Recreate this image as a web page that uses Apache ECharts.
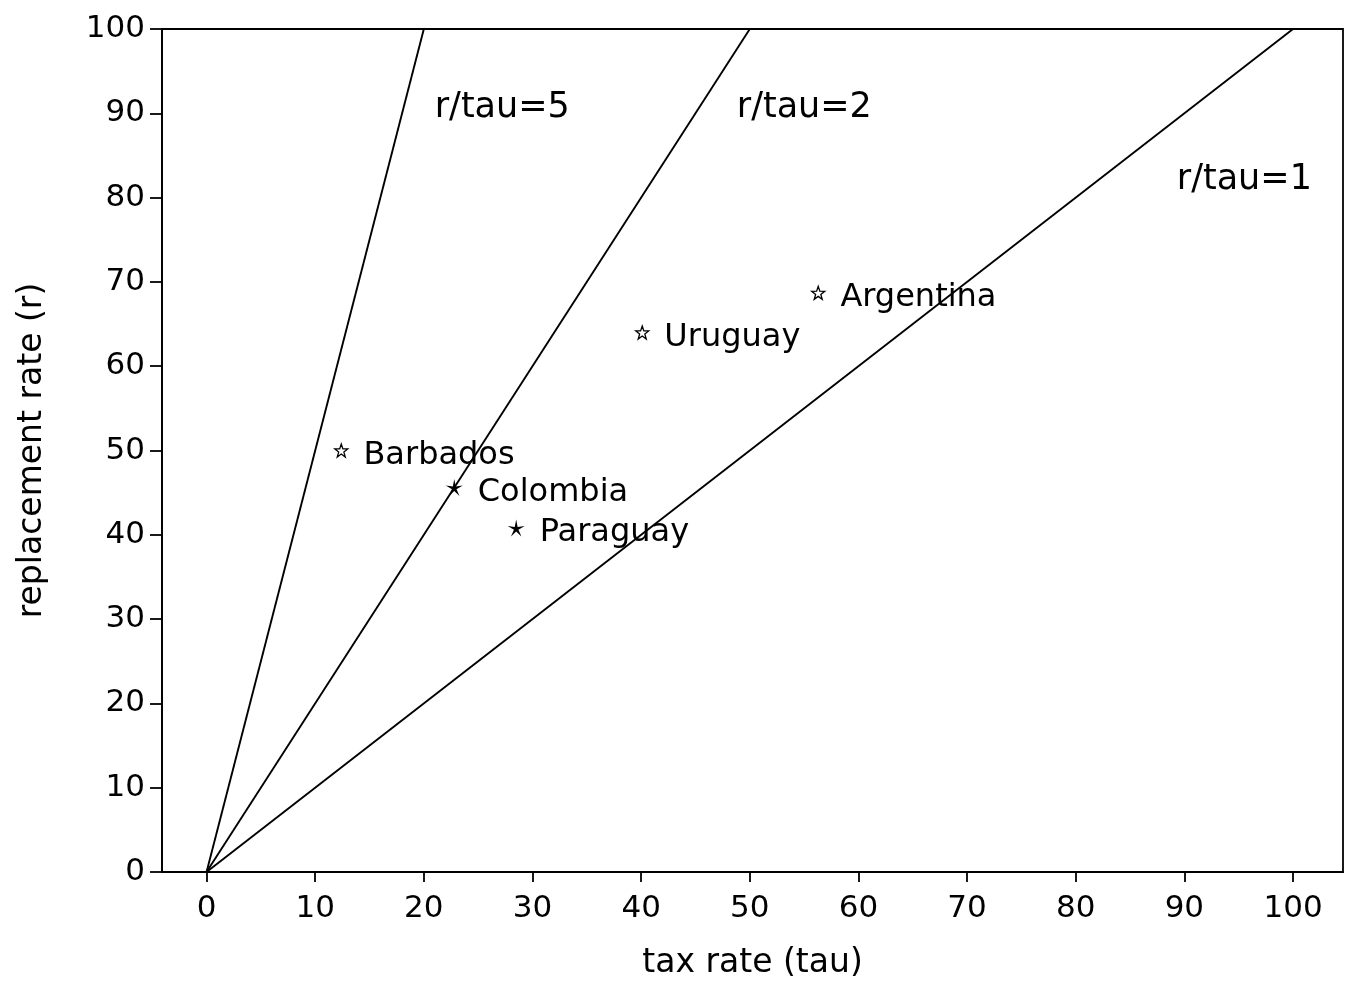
<!DOCTYPE html>
<html>
<head>
<meta charset="utf-8">
<script src="https://cdn.jsdelivr.net/npm/echarts@6/dist/echarts.min.js"></script>
<style>
html,body{margin:0;padding:0;background:#fff;}
#main{width:1349px;height:987px;}
</style>
</head>
<body>
<div id="main"></div>
<script>
// ---- data ----
var countries = ['Barbados', 'Colombia', 'Paraguay', 'Uruguay', 'Argentina'];
var taxRate = [12.4, 22.8, 28.5, 40.1, 56.3];
var replacementRate = [50.0, 45.6, 40.8, 64.0, 68.7];
var markerFilled = [false, true, true, false, false];

var ratioNames = ['r/tau=5', 'r/tau=2', 'r/tau=1'];
var ratioValues = [5, 2, 1];
var ratioLabelX = [21.0, 48.8, 89.3];
var ratioLabelY = [90.6, 90.6, 82.1];

var xTicks = [0, 10, 20, 30, 40, 50, 60, 70, 80, 90, 100];
var yTicks = [0, 10, 20, 30, 40, 50, 60, 70, 80, 90, 100];

// ---- chart ----
var FONT = 'DejaVu Sans';
var hollowStar = 'path://M0,-10 L2.35,-3.24 L9.511,-3.09 L3.804,1.236 L5.878,8.09 L0,4 L-5.878,8.09 L-3.804,1.236 L-9.511,-3.09 L-2.35,-3.24 Z';
var asterisk = 'path://M0,-10 L1.6,-2.2 L9.511,-3.09 L2.5,0.8 L5.878,8.09 L0,2.7 L-5.878,8.09 L-2.5,0.8 L-9.511,-3.09 L-1.6,-2.2 Z';

var series = [];
ratioValues.forEach(function (k, i) {
  series.push({
    type: 'line',
    name: ratioNames[i],
    data: [[0, 0], [100 / k, 100]],
    symbol: 'none',
    lineStyle: { color: '#000', width: 1.9 },
    silent: true,
    z: 2
  });
});

series.push({
  type: 'scatter',
  name: 'lineLabels',
  data: ratioNames.map(function (n, i) { return { name: n, value: [ratioLabelX[i], ratioLabelY[i]] }; }),
  symbolSize: 0,
  itemStyle: { opacity: 1 },
  label: {
    show: true, position: 'right', distance: 0,
    formatter: '{b}', color: '#000', fontFamily: FONT, fontSize: 35
  },
  z: 3
});

series.push({
  type: 'scatter',
  name: 'countries',
  data: countries.map(function (c, i) {
    return {
      name: c,
      value: [taxRate[i], replacementRate[i]],
      symbol: markerFilled[i] ? asterisk : hollowStar,
      symbolSize: markerFilled[i] ? 17 : 13,
      itemStyle: markerFilled[i]
        ? { color: '#000', borderWidth: 0, opacity: 1 }
        : { color: '#fff', borderColor: '#000', borderWidth: 1.3, opacity: 1 }
    };
  }),
  label: {
    show: true, position: 'right', distance: 15, offset: [0, 5],
    formatter: '{b}', color: '#000', fontFamily: FONT, fontSize: 32
  },
  z: 4
});

var chart = echarts.init(document.getElementById('main'), null, { renderer: 'canvas' });
chart.setOption({
  animation: false,
  backgroundColor: '#fff',
  grid: {
    left: 162, right: 6, top: 29, bottom: 115,
    show: true, borderColor: '#000', borderWidth: 1.8, backgroundColor: 'transparent'
  },
  xAxis: {
    type: 'value', min: -4.1, max: 104.6,
    name: 'tax rate (tau)', nameLocation: 'middle', nameGap: 75,
    nameTextStyle: { color: '#000', fontFamily: FONT, fontSize: 33 },
    axisLine: { show: true, onZero: false, lineStyle: { color: '#000', width: 1.8 } },
    axisTick: { show: true, length: 10, customValues: xTicks, lineStyle: { color: '#000', width: 1.8 } },
    axisLabel: { customValues: xTicks, margin: 21, color: '#000', fontFamily: FONT, fontSize: 31 },
    splitLine: { show: false }
  },
  yAxis: {
    type: 'value', min: 0, max: 100,
    name: 'replacement rate (r)', nameLocation: 'middle', nameGap: 113,
    nameTextStyle: { color: '#000', fontFamily: FONT, fontSize: 33 },
    axisLine: { show: true, onZero: false, lineStyle: { color: '#000', width: 1.8 } },
    axisTick: { show: true, length: 12, customValues: yTicks, lineStyle: { color: '#000', width: 1.8 } },
    axisLabel: { customValues: yTicks, margin: 17, color: '#000', fontFamily: FONT, fontSize: 31 },
    splitLine: { show: false }
  },
  series: series
});
</script>
</body>
</html>
